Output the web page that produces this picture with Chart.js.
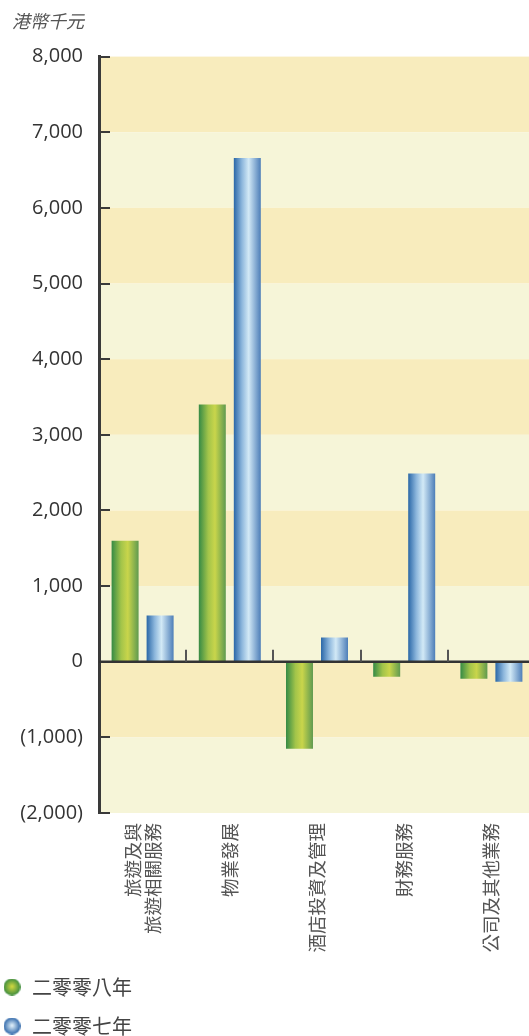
<!DOCTYPE html>
<html>
<head>
<meta charset="utf-8">
<script src="https://cdn.jsdelivr.net/npm/chart.js@4/dist/chart.umd.min.js"></script>
<style>
  html, body { margin: 0; padding: 0; background: #fff; overflow: hidden; }
  #wrap { position: relative; width: 535px; height: 1046px; }
</style>
</head>
<body>
<div id="wrap"><canvas id="segChart"></canvas></div>
<script>
// 分部業績 (港幣千元)
var categories = [['旅遊及與', '旅遊相關服務'], '物業發展', '酒店投資及管理', '財務服務', '公司及其他業務'];
var seriesNames = ['二零零八年', '二零零七年'];
var values2008 = [1600, 3400, -1150, -200, -225];
var values2007 = [610, 6660, 320, 2490, -265];
var yMin = -2000, yMax = 8000, yStep = 1000;

// bar gradients, left -> right
var barStops = [
    [[0, '#358a45'], [0.35, '#a2c44a'], [0.6, '#c9d54b'], [1, '#5f9a4f']],
    [[0, '#2a67a7'], [0.3, '#8cb6dc'], [0.55, '#d2e9f6'], [1, '#4d7eb8']]
];
var dotColors = [['#cdd640', '#3d8c3e'], ['#dcedf8', '#3068aa']];

function makeDot(inner, outer) {
    var c = document.createElement('canvas');
    c.width = 17; c.height = 17;
    var g2 = c.getContext('2d');
    var g = g2.createRadialGradient(8.5, 8, 0.5, 8.5, 8.5, 8.5);
    g.addColorStop(0, inner);
    g.addColorStop(1, outer);
    g2.fillStyle = g;
    g2.beginPath();
    g2.arc(8.5, 8.5, 8.5, 0, Math.PI * 2);
    g2.fill();
    return c;
}
var legendDots = dotColors.map(function (d) { return makeDot(d[0], d[1]); });

function fmt(v) {
    if (v < 0) return '(' + Math.abs(v).toLocaleString('en-US') + ')';
    return v.toLocaleString('en-US');
}

var decorations = {
    id: 'decorations',
    afterLayout: function (chart) {
        // nudge title and legend to the left margin
        chart.titleBlock.left += 12;
        chart.titleBlock.right += 12;
        chart.legend.left -= 17;
        chart.legend.right -= 17;
    },
    beforeDraw: function (chart) {
        var ctx = chart.ctx, area = chart.chartArea, y = chart.scales.y;
        // alternating bands
        var n = 0;
        for (var v = yMax; v > yMin; v -= yStep) {
            var top = y.getPixelForValue(v), bot = y.getPixelForValue(v - yStep);
            ctx.fillStyle = (n % 2 === 0) ? '#f8ecbd' : '#f6f5d8';
            ctx.fillRect(area.left, top, area.right - area.left, bot - top);
            n++;
        }
        // center multi-line category labels on their tick
        var items = chart.scales.x.getLabelItems();
        if (!items._centered) {
            items.forEach(function (it) {
                if (Array.isArray(it.label)) it.textOffset -= (it.label.length - 1) * it.font.lineHeight / 2;
            });
            items._centered = true;
        }
    },
    beforeDatasetsDraw: function (chart) {
        var ctx = chart.ctx;
        chart.data.datasets.forEach(function (ds, di) {
            chart.getDatasetMeta(di).data.forEach(function (bar) {
                var g = ctx.createLinearGradient(bar.x - bar.width / 2, 0, bar.x + bar.width / 2, 0);
                barStops[di].forEach(function (s) { g.addColorStop(s[0], s[1]); });
                bar.options = Object.assign({}, bar.options, { backgroundColor: g });
            });
        });
    },
    afterDatasetsDraw: function (chart) {
        var ctx = chart.ctx, area = chart.chartArea, y = chart.scales.y, x = chart.scales.x;
        var y0 = y.getPixelForValue(0);
        ctx.save();
        // inward ticks on the value axis
        ctx.strokeStyle = '#3a3a3a';
        ctx.lineWidth = 2;
        y.ticks.forEach(function (t) {
            var py = Math.round(y.getPixelForValue(t.value));
            ctx.beginPath();
            ctx.moveTo(area.left, py);
            ctx.lineTo(area.left + 11, py);
            ctx.stroke();
        });
        // zero line
        ctx.strokeStyle = '#333';
        ctx.lineWidth = 2.5;
        ctx.beginPath();
        ctx.moveTo(area.left, y0);
        ctx.lineTo(area.right, y0);
        ctx.stroke();
        // category separators
        ctx.strokeStyle = '#555';
        ctx.lineWidth = 2;
        for (var i = 0; i < categories.length; i++) {
            var px = i < categories.length - 1
                ? (x.getPixelForValue(i) + x.getPixelForValue(i + 1)) / 2
                : area.right;
            px = Math.round(px);
            ctx.beginPath();
            ctx.moveTo(px, y0);
            ctx.lineTo(px, y0 - 12);
            ctx.stroke();
        }
        ctx.restore();
    }
};

var ctx = document.getElementById('segChart').getContext('2d');
var segChart = new Chart(ctx, {
    type: 'bar',
    plugins: [decorations],
    data: {
        labels: categories,
        datasets: [{
            label: seriesNames[0],
            data: values2008,
            backgroundColor: '#9cc04a',
            borderWidth: 0
        }, {
            label: seriesNames[1],
            data: values2007,
            backgroundColor: '#8cb6dc',
            borderWidth: 0
        }]
    },
    options: {
        responsive: true,
        maintainAspectRatio: false,
        animation: false,
        events: [],
        categoryPercentage: 0.803,
        barPercentage: 0.771,
        layout: { padding: 0 },
        plugins: {
            title: {
                display: true,
                text: '港幣千元',
                align: 'start',
                color: '#555',
                font: { family: 'Noto Sans CJK TC', size: 18, style: 'italic', weight: 'normal' },
                padding: { top: 10, bottom: 25 }
            },
            legend: {
                position: 'bottom',
                align: 'start',
                labels: {
                    usePointStyle: true,
                    pointStyleWidth: 20,
                    padding: 19,
                    color: '#444',
                    font: { family: 'Noto Sans CJK TC', size: 20 },
                    generateLabels: function (chart) {
                        return chart.data.datasets.map(function (ds, i) {
                            return {
                                text: ds.label + '\u3000'.repeat(12),
                                pointStyle: legendDots[i],
                                fontColor: '#444',
                                fillStyle: 'transparent',
                                strokeStyle: 'transparent',
                                lineWidth: 0,
                                hidden: false,
                                datasetIndex: i
                            };
                        });
                    }
                }
            },
            tooltip: { enabled: false }
        },
        scales: {
            x: {
                position: 'bottom',
                grid: { display: false, drawTicks: false },
                border: { display: false },
                ticks: {
                    autoSkip: false,
                    minRotation: 90,
                    maxRotation: 90,
                    padding: 10,
                    color: '#555',
                    font: { family: 'Noto Sans CJK TC', size: 18.5, lineHeight: 1.08 }
                },
                afterFit: function (scale) {
                    scale.height = 145;
                    scale.paddingLeft = 0;
                    scale.paddingRight = 0;
                }
            },
            y: {
                min: yMin,
                max: yMax,
                grid: { display: false, drawTicks: false },
                border: { display: true, color: '#3a3a3a', width: 3 },
                ticks: {
                    stepSize: yStep,
                    padding: 16,
                    color: '#333',
                    font: { family: 'Open Sans', size: 20 },
                    callback: function (v) { return fmt(v); }
                },
                afterFit: function (scale) {
                    scale.width = 99;
                }
            }
        }
    }
});
</script>
</body>
</html>
